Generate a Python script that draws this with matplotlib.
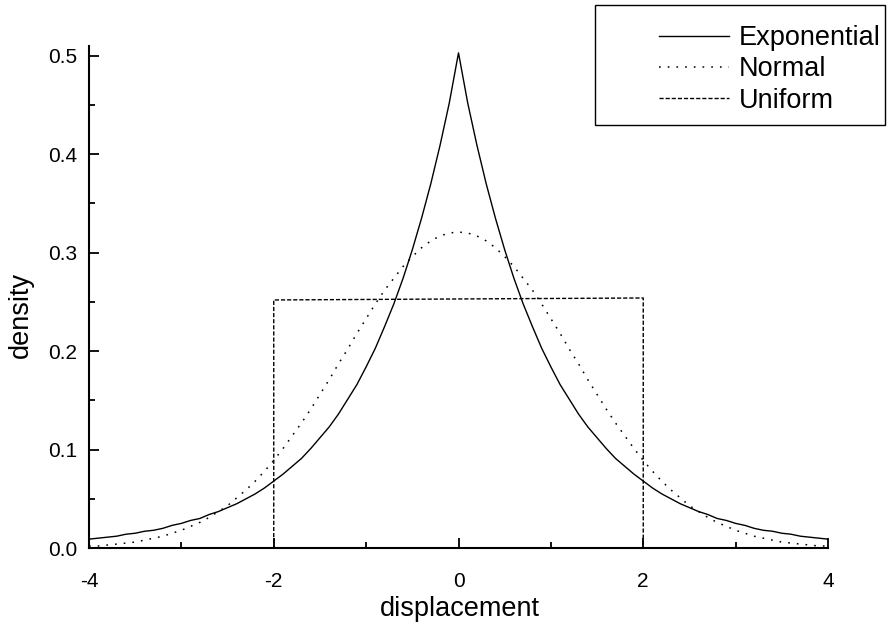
import matplotlib
matplotlib.use("Agg")
import matplotlib.pyplot as plt
from matplotlib.patches import Rectangle
from matplotlib.ticker import MultipleLocator

plt.rcParams['font.family'] = ['Liberation Sans', 'DejaVu Sans']

# ---- data ----
x_vals = [-4.0, -3.9, -3.8, -3.7, -3.6, -3.5, -3.4, -3.3, -3.2, -3.1,
          -3.0, -2.9, -2.8, -2.7, -2.6, -2.5, -2.4, -2.3, -2.2, -2.1,
          -2.0, -1.9, -1.8, -1.7, -1.6, -1.5, -1.4, -1.3, -1.2, -1.1,
          -1.0, -0.9, -0.8, -0.7, -0.6, -0.5, -0.4, -0.3, -0.2, -0.1,
          0.0,
          0.1, 0.2, 0.3, 0.4, 0.5, 0.6, 0.7, 0.8, 0.9, 1.0,
          1.1, 1.2, 1.3, 1.4, 1.5, 1.6, 1.7, 1.8, 1.9, 2.0,
          2.1, 2.2, 2.3, 2.4, 2.5, 2.6, 2.7, 2.8, 2.9, 3.0,
          3.1, 3.2, 3.3, 3.4, 3.5, 3.6, 3.7, 3.8, 3.9, 4.0]

exponential = [0.009, 0.010, 0.011, 0.012, 0.014, 0.015, 0.017, 0.018, 0.020, 0.023,
               0.025, 0.028, 0.030, 0.034, 0.037, 0.041, 0.045, 0.050, 0.055, 0.061,
               0.068, 0.075, 0.083, 0.091, 0.101, 0.112, 0.123, 0.136, 0.151, 0.166,
               0.184, 0.203, 0.225, 0.248, 0.274, 0.303, 0.335, 0.370, 0.409, 0.452,
               0.503,
               0.452, 0.409, 0.370, 0.335, 0.303, 0.274, 0.248, 0.225, 0.203, 0.184,
               0.166, 0.151, 0.136, 0.123, 0.112, 0.101, 0.091, 0.083, 0.075, 0.068,
               0.061, 0.055, 0.050, 0.045, 0.041, 0.037, 0.034, 0.030, 0.028, 0.025,
               0.023, 0.020, 0.018, 0.017, 0.015, 0.014, 0.012, 0.011, 0.010, 0.009]

normal = [0.002, 0.002, 0.003, 0.004, 0.005, 0.006, 0.008, 0.010, 0.012, 0.015,
          0.018, 0.022, 0.026, 0.031, 0.037, 0.043, 0.051, 0.059, 0.068, 0.078,
          0.089, 0.101, 0.114, 0.127, 0.141, 0.156, 0.171, 0.187, 0.202, 0.218,
          0.233, 0.248, 0.262, 0.274, 0.286, 0.296, 0.305, 0.312, 0.317, 0.320,
          0.321,
          0.320, 0.317, 0.312, 0.305, 0.296, 0.286, 0.274, 0.262, 0.248, 0.233,
          0.218, 0.202, 0.187, 0.171, 0.156, 0.141, 0.127, 0.114, 0.101, 0.089,
          0.078, 0.068, 0.059, 0.051, 0.043, 0.037, 0.031, 0.026, 0.022, 0.018,
          0.015, 0.012, 0.010, 0.008, 0.006, 0.005, 0.004, 0.003, 0.002, 0.002]

uniform_x = [-4.0, -2.0, -2.0, 2.0, 2.0, 4.0]
uniform_y = [0.0, 0.0, 0.252, 0.254, 0.0, 0.0]

series_labels = ["Exponential", "Normal", "Uniform"]
x_ticks = [-4, -2, 0, 2, 4]
y_ticks = [0.0, 0.1, 0.2, 0.3, 0.4, 0.5]

# ---- figure ----
W, H = 892, 625
fig = plt.figure(figsize=(W / 100, H / 100), dpi=100)
ax = fig.add_axes([89 / W, 1 - 548 / H, (828 - 89) / W, (548 - 46) / H])

l_exp, = ax.plot(x_vals, exponential, color='black', lw=1.0, ls='-')
l_nor, = ax.plot(x_vals, normal, color='black', lw=1.1, ls=(0, (1.1, 4.6)))
l_uni, = ax.plot(uniform_x, uniform_y, color='black', lw=1.0, ls=(0, (3.0, 1.4)))

ax.set_xlim(-4, 4)
ax.set_ylim(0, 0.51)
ax.set_xticks(x_ticks)
ax.set_xticklabels([str(v) for v in x_ticks])
ax.set_yticks(y_ticks)
ax.set_yticklabels([f"{v:.1f}" for v in y_ticks])
ax.xaxis.set_minor_locator(MultipleLocator(1))
ax.yaxis.set_minor_locator(MultipleLocator(0.05))

for s in ['top', 'right']:
    ax.spines[s].set_visible(False)
for s in ['left', 'bottom']:
    ax.spines[s].set_linewidth(1.5)

ax.tick_params(axis='both', which='major', direction='in', length=7, width=1.3,
               labelsize=15)
ax.tick_params(axis='both', which='minor', direction='in', length=4, width=1.3)
ax.tick_params(axis='x', which='major', pad=17)
ax.tick_params(axis='y', which='major', pad=8.5)

fig.text(460 / W, 1 - 609 / H, "displacement", ha='center', va='center', fontsize=19.5)
fig.text(21 / W, 1 - 315 / H, "density", ha='center', va='center', rotation=90,
         fontsize=19.5)

# legend box (figure coordinates)
fig.patches.append(Rectangle((595 / W, 1 - 125 / H), (885 - 595) / W, (125 - 5) / H,
                             transform=fig.transFigure, fill=False,
                             edgecolor='black', lw=1.0))
leg = fig.legend([l_exp, l_nor, l_uni], series_labels,
                 loc='upper left', bbox_to_anchor=(659 / W, 1 - 25 / H),
                 frameon=False, fontsize=19.5, handlelength=2.6,
                 handletextpad=0.35, labelspacing=0.2, borderpad=0.0,
                 borderaxespad=0.0)

fig.savefig("out.png", dpi=100)
